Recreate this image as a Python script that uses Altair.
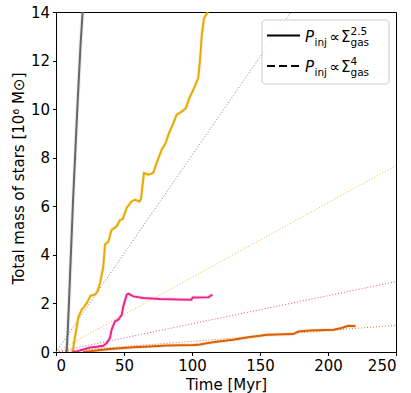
import altair as alt
import pandas as pd

# ---- data ----
gray_t = [7.8, 8.6, 9.5, 10.5, 11.5, 12.5, 14.0, 16.0, 18.0, 19.8]
gray_m = [0.0, 0.8, 2.0, 3.4, 4.8, 6.2, 8.0, 10.4, 12.6, 14.2]

yellow_t = [12.2, 14.5, 16.5, 19.0, 20.5, 22.5, 25.5, 28.7, 30.5, 32.4, 34.8, 36.0, 38.5, 40.9,
            44.6, 47.1, 49.0, 52.0, 55.6, 58.1, 61.3, 62.5, 64.7, 67.9, 71.5, 74.0, 77.7, 80.6,
            82.6, 86.3, 88.7, 92.4, 95.6, 98.0, 101.0, 104.6, 105.9, 107.1, 108.8, 111.3, 113.0]
yellow_m = [0.0, 0.8, 1.45, 1.75, 1.85, 2.0, 2.32, 2.36, 2.5, 2.84, 3.52, 4.42, 4.55, 5.03,
            5.17, 5.44, 5.47, 5.93, 6.2, 6.27, 6.2, 6.3, 7.37, 7.30, 7.37, 7.78, 8.33, 8.6,
            8.94, 9.42, 9.77, 9.9, 10.04, 10.45, 10.8, 11.28, 12.03, 12.99, 13.74, 13.97, 14.2]

pink_t = [12.0, 15.2, 20.0, 25.0, 30.0, 34.8, 37.3, 39.7, 40.9, 43.4, 45.8, 48.3, 49.5, 52.0,
          53.2, 56.9, 64.2, 76.5, 90.0, 99.5, 100.5, 112.0, 115.0]
pink_m = [0.0, 0.02, 0.1, 0.19, 0.22, 0.26, 0.37, 0.58, 0.92, 1.26, 1.33, 1.53, 1.88, 2.36,
          2.4, 2.29, 2.22, 2.18, 2.16, 2.15, 2.24, 2.25, 2.36]

orange_t = [20.0, 30.0, 39.7, 56.8, 69.0, 81.4, 101.0, 106.0, 110.8, 118.0, 130.4, 142.6, 150.0,
            154.9, 174.5, 178.2, 186.8, 203.9, 210.0, 215.0, 220.3]
orange_m = [0.0, 0.06, 0.12, 0.2, 0.23, 0.27, 0.29, 0.31, 0.36, 0.42, 0.5, 0.62, 0.67,
            0.71, 0.74, 0.84, 0.89, 0.92, 0.99, 1.08, 1.06]

# dotted reference lines (start, end)
fit_t = [0.0, 250.0]
fit_gray = [0.0, 20.25]
fit_yellow = [0.0, 7.68]
fit_pink = [0.0, 2.9]
fit_orange = [0.0, 1.1]

series = ["gray", "yellow", "pink", "orange"]
colors = ["#666666", "#e6ab02", "#e7298a", "#d95f02"]

def make(name, ts, ms):
    return pd.DataFrame({"s": name, "t": ts, "m": ms, "i": range(len(ts))})

runs = pd.concat([make("gray", gray_t, gray_m), make("yellow", yellow_t, yellow_m),
                  make("pink", pink_t, pink_m), make("orange", orange_t, orange_m)])
fits = pd.concat([make("gray", fit_t, fit_gray), make("yellow", fit_t, fit_yellow),
                  make("pink", fit_t, fit_pink), make("orange", fit_t, fit_orange)])

FONT = "DejaVu Sans"
xs = alt.Scale(domain=[0, 250], nice=False, zero=False)
ys = alt.Scale(domain=[0, 14], nice=False)
cs = alt.Scale(domain=series, range=colors)

xenc = alt.X("t:Q", scale=xs, axis=alt.Axis(
    title="Time [Myr]", values=[0, 50, 100, 150, 200, 250], format="d",
    titleY=37, titleBaseline="alphabetic"))
yenc = alt.Y("m:Q", scale=ys, axis=alt.Axis(
    title="Total mass of stars [10⁶ M⊙]", values=list(range(0, 15, 2)), format="d",
    titleX=-38, titleY=166, titleAngle=270, titleAlign="center", titleBaseline="middle"))

fit_layer = alt.Chart(fits).mark_line(clip=True, strokeWidth=1, strokeDash=[1, 2], opacity=0.85).encode(
    x=xenc, y=yenc, color=alt.Color("s:N", scale=cs, legend=None), detail="s:N", order="i:Q")

halo = alt.Chart(runs).mark_line(clip=True, strokeWidth=4, opacity=0.12).encode(
    x=xenc, y=yenc, color=alt.Color("s:N", scale=cs, legend=None), detail="s:N", order="i:Q")

run_layer = alt.Chart(runs).mark_line(clip=True, strokeWidth=2).encode(
    x=xenc, y=yenc, color=alt.Color("s:N", scale=cs, legend=None), detail="s:N", order="i:Q")

# ---- custom legend (decoration) ----
box = alt.Chart(pd.DataFrame({"a": [0]})).mark_rect(
    fill="white", fillOpacity=0.85, stroke="#cccccc", strokeWidth=1, cornerRadius=3).encode(
    x=alt.value(206), x2=alt.value(333), y=alt.value(8), y2=alt.value(72))

solid = alt.Chart(pd.DataFrame({"a": [0]})).mark_rule(color="black", strokeWidth=2).encode(
    x=alt.value(211), x2=alt.value(244), y=alt.value(23.5))
dashed = alt.Chart(pd.DataFrame({"a": [0]})).mark_rule(color="black", strokeWidth=2, strokeDash=[8, 4]).encode(
    x=alt.value(211), x2=alt.value(244), y=alt.value(54))

def txt(s, x, y, size=14, italic=False):
    return alt.Chart(pd.DataFrame({"a": [0]})).mark_text(
        text=s, font=FONT, fontSize=size, align="left", baseline="alphabetic", color="black",
        fontStyle="italic" if italic else "normal").encode(x=alt.value(x), y=alt.value(y))

legend_parts = []
for base, sup in [(30, "2.5"), (60, "4")]:
    legend_parts += [
        txt("P", 249, base, 15, True),
        txt("inj", 258.5, base + 4, 10.5),
        txt("∝", 273.5, base, 15),
        txt("Σ", 285, base, 15),
        txt(sup, 294.5, base - 7.5, 10.5),
        txt("gas", 294.5, base + 4, 10.5),
    ]

chart = alt.layer(fit_layer, halo, run_layer, box, solid, dashed, *legend_parts).properties(
    width=340, height=340,
    background="white",
    autosize=alt.AutoSizeParams(type="none"),
    padding={"left": 56, "top": 12, "right": 15, "bottom": 41},
).configure_view(stroke="black", strokeWidth=1).configure_axis(
    grid=False, domainColor="black", domainWidth=1, tickColor="black", tickSize=3.5, tickWidth=1,
    labelFont=FONT, labelFontSize=15, labelColor="black", labelPadding=3,
    titleFont=FONT, titleFontSize=15, titleFontWeight="normal", titleColor="black",
)

chart.save("out.html", embed_options={"renderer": "svg", "actions": False})
